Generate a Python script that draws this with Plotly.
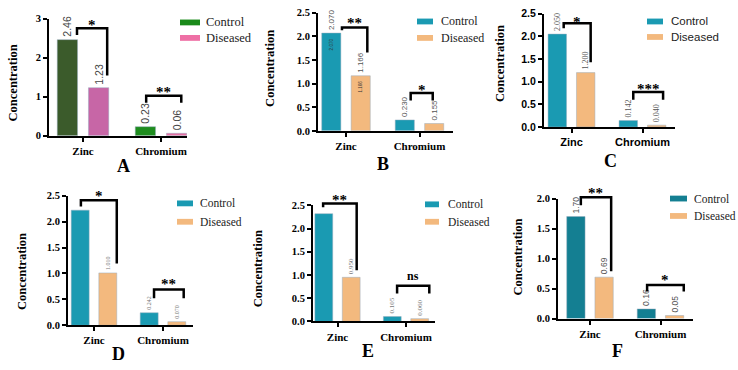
import plotly.graph_objects as go

W, H = 738, 370

categories = ["Zinc", "Chromium"]
cat_pos = [0, 1]
series_names = ["Control", "Diseased"]

a_control = [2.46, 0.23]
a_diseased = [1.23, 0.06]
a_control_text = ["2.46", "0.23"]
a_diseased_text = ["1.23", "0.06"]
a_sig = ["*", "**"]

b_control = [2.070, 0.230]
b_diseased = [1.166, 0.155]
b_control_text = ["2.070", "0.230"]
b_diseased_text = ["1.166", "0.155"]
b_sig = ["**", "*"]

c_control = [2.050, 0.142]
c_diseased = [1.200, 0.040]
c_control_text = ["2.050", "0.142"]
c_diseased_text = ["1.200", "0.040"]
c_sig = ["*", "***"]

d_control = [2.22, 0.242]
d_diseased = [1.010, 0.070]
d_control_text = ["", "0.242"]
d_diseased_text = ["1.010", "0.070"]
d_sig = ["*", "**"]

e_control = [2.32, 0.105]
e_diseased = [0.950, 0.060]
e_control_text = ["", "0.105"]
e_diseased_text = ["0.950", "0.060"]
e_sig = ["**", "ns"]

f_control = [1.70, 0.16]
f_diseased = [0.69, 0.05]
f_control_text = ["1.70", "0.16"]
f_diseased_text = ["0.69", "0.05"]
f_sig = ["**", "*"]

SERIF = "Liberation Serif, Times New Roman, serif"
SANS = "Liberation Sans, Arial, sans-serif"
TEAL = "#1a9ab2"
ORANGE = "#f3b97e"

panels = [
    dict(letter="A", ctrl=a_control, dis=a_diseased, ct=a_control_text, dt=a_diseased_text, sig=a_sig,
         ymax=3, dtick=1, fmt="d", px=dict(l=49, r=187, z=83, c=161, t=13, b=134),
         cc=["#3b5b2b", "#1e8c1e"], dc=["#c766a6", "#e46fa3"], lc=("#1a8a1a", "#ee70a5"),
         tf=SERIF, lf=SERIF, vf=SANS, vs=10.5, vcol="#444",
         zb=(-0.077, 0.31, 2.75, 2.58, 1.54), cb=(-0.19, 0.26, 1.02, 0.84, 0.84), sy=(2.95, 1.21),
         title=(13, 80), let=(123, 165), leg=dict(x=180, y1=17, y2=33, w=20, h=6, tx=204, size=12.5)),
    dict(letter="B", ctrl=b_control, dis=b_diseased, ct=b_control_text, dt=b_diseased_text, sig=b_sig,
         ymax=2.5, dtick=0.5, fmt=".1f", px=dict(l=318, r=453, z=346, c=419.5, t=7, b=129),
         cc=[TEAL, TEAL], dc=[ORANGE, ORANGE], lc=(TEAL, ORANGE),
         tf=SERIF, lf=SERIF, vf=SANS, vs=8, vcol="#555", inner=True,
         zb=(-0.055, 0.29, 2.19, 2.13, 1.66), cb=(-0.12, 0.18, 0.80, 0.64, 0.64), sy=(2.36, 0.94),
         title=(270, 65), let=(383, 163), leg=dict(x=417, y1=16, y2=33, w=16, h=6, tx=439, size=12)),
    dict(letter="C", ctrl=c_control, dis=c_diseased, ct=c_control_text, dt=c_diseased_text, sig=c_sig,
         ymax=2.5, dtick=0.5, fmt=".1f", px=dict(l=544, r=675, z=571.5, c=642.5, t=8, b=125),
         cc=[TEAL, TEAL], dc=[ORANGE, ORANGE], lc=(TEAL, ORANGE),
         tf=SANS, lf=SANS, vf=SERIF, vs=8, vcol="#555",
         zb=(-0.11, 0.27, 2.29, 2.18, 1.43), cb=(-0.13, 0.29, 0.77, 0.60, 0.60), sy=(2.41, 0.92),
         title=(500, 60), let=(610, 160), leg=dict(x=647, y1=16, y2=32, w=16, h=6, tx=669, size=11.5)),
    dict(letter="D", ctrl=d_control, dis=d_diseased, ct=d_control_text, dt=d_diseased_text, sig=d_sig,
         ymax=2.5, dtick=0.5, fmt=".1f", px=dict(l=68, r=193, z=94, c=163, t=196, b=330),
         cc=[TEAL, TEAL], dc=[ORANGE, ORANGE], lc=(TEAL, ORANGE),
         tf=SERIF, lf=SERIF, vf=SERIF, vs=6, vcol="#777",
         zb=(-0.19, 0.33, 2.41, 2.29, 1.19), cb=(-0.13, 0.30, 0.69, 0.52, 0.52), sy=(2.57, 0.88),
         title=(22, 275), let=(118, 360), leg=dict(x=177, y1=204, y2=223, w=16, h=6, tx=198, size=11.5)),
    dict(letter="E", ctrl=e_control, dis=e_diseased, ct=e_control_text, dt=e_diseased_text, sig=e_sig,
         ymax=2.5, dtick=0.5, fmt=".1f", px=dict(l=313, r=435, z=337.5, c=406, t=206, b=326),
         cc=[TEAL, TEAL], dc=[ORANGE, ORANGE], lc=(TEAL, ORANGE),
         tf=SERIF, lf=SERIF, vf=SERIF, vs=7, vcol="#777",
         zb=(-0.21, 0.28, 2.54, 2.46, 1.10), cb=(-0.13, 0.34, 0.77, 0.60, 0.60), sy=(2.69, 0.98),
         title=(258, 272), let=(368, 357), leg=dict(x=425, y1=205, y2=223, w=14, h=6, tx=446, size=11.5)),
    dict(letter="F", ctrl=f_control, dis=f_diseased, ct=f_control_text, dt=f_diseased_text, sig=f_sig,
         ymax=2.0, dtick=0.5, fmt=".1f", px=dict(l=558, r=693, z=590, c=660.5, t=199, b=323),
         cc=["#147f92", "#147f92"], dc=[ORANGE, ORANGE], lc=("#147f92", ORANGE),
         tf=SERIF, lf=SERIF, vf=SANS, vs=8.5, vcol="#555",
         zb=(-0.13, 0.30, 2.02, 1.89, 0.79), cb=(-0.19, 0.33, 0.56, 0.45, 0.45), sy=(2.16, 0.71),
         title=(518, 260), let=(617, 357), leg=dict(x=670, y1=199, y2=217, w=17, h=6, tx=692, size=11.5)),
]

BARGAP = 0.2
BARGROUPGAP = 0.35
BAR_OFFSET = (1 - BARGAP) / 4  # centre offset of each bar within its category

fig = go.Figure()
shapes = []
annotations = []
layout = {}


def px_x(v):
    return v / W


def px_y(v):
    return 1 - v / H


for i, p in enumerate(panels, start=1):
    xa = "x" if i == 1 else f"x{i}"
    ya = "y" if i == 1 else f"y{i}"
    g = p["px"]
    ppu = g["c"] - g["z"]
    xr = [(g["l"] - g["z"]) / ppu, (g["r"] - g["z"]) / ppu]
    ypu = (g["b"] - g["t"]) / p["ymax"]

    def dx(v, g=g, ppu=ppu):
        return (g["z"] + v * ppu) / W

    def dy(v, g=g, ypu=ypu):
        return 1 - (g["b"] - v * ypu) / H

    for vals, txt, cols, nm in ((p["ctrl"], p["ct"], p["cc"], series_names[0]),
                                 (p["dis"], p["dt"], p["dc"], series_names[1])):
        fig.add_trace(go.Bar(
            x=cat_pos, y=vals, name=nm, text=txt, textposition="outside", textangle=-90,
            textfont=dict(family=p["vf"], size=p["vs"], color=p["vcol"]),
            marker=dict(color=cols, line=dict(color="rgba(150,170,190,0.6)", width=0.8)),
            cliponaxis=False, constraintext="none", showlegend=False,
            xaxis=xa, yaxis=ya, hoverinfo="skip"))

    axfont = dict(family=p["tf"], size=11, color="black", weight="bold")
    layout["xaxis" if i == 1 else f"xaxis{i}"] = dict(
        domain=[px_x(g["l"]), px_x(g["r"])], anchor=ya, range=xr, fixedrange=True,
        tickvals=cat_pos, ticktext=categories, ticks="outside", ticklen=4, tickwidth=1.5,
        tickcolor="black", showline=True, linecolor="black", linewidth=2,
        showgrid=False, zeroline=False, tickfont=axfont)
    layout["yaxis" if i == 1 else f"yaxis{i}"] = dict(
        domain=[px_y(g["b"]), px_y(g["t"])], anchor=xa, range=[0, p["ymax"]], fixedrange=True,
        dtick=p["dtick"], tickformat=p["fmt"], ticks="outside", ticklen=4, tickwidth=1.5,
        tickcolor="black", showline=True, linecolor="black", linewidth=2,
        showgrid=False, zeroline=False,
        tickfont=dict(family=p["tf"], size=10.5, color="black", weight="bold"))

    # tiny duplicate value labels printed inside the zinc bars (panel B)
    if p.get("inner"):
        for off, vals, txt in ((-BAR_OFFSET, p["ctrl"], p["ct"]), (BAR_OFFSET, p["dis"], p["dt"])):
            annotations.append(dict(
                x=dx(cat_pos[0] + off), y=dy(vals[0]), xref="paper", yref="paper",
                text=txt[0], textangle=-90, showarrow=False, xanchor="center", yanchor="top",
                yshift=-3, font=dict(family=SANS, size=4.5, color="#333")))

    # significance brackets
    for k, br in enumerate((p["zb"], p["cb"])):
        x0 = dx(cat_pos[k] + br[0])
        x1 = dx(cat_pos[k] + br[1])
        shapes.append(dict(type="path", xref="paper", yref="paper",
                           path=f"M {x0},{dy(br[3])} L {x0},{dy(br[2])} L {x1},{dy(br[2])} L {x1},{dy(br[4])}",
                           line=dict(color="black", width=2.5)))
        sig = p["sig"][k]
        annotations.append(dict(
            x=(x0 + x1) / 2, y=dy(p["sy"][k]), xref="paper", yref="paper", text=sig, showarrow=False,
            xanchor="center", yanchor="middle", yshift=-4 if sig != "ns" else 0,
            font=dict(family=SERIF, size=15 if sig != "ns" else 12, color="black", weight="bold")))

    # y title
    annotations.append(dict(
        x=px_x(p["title"][0]), y=px_y(p["title"][1]), xref="paper", yref="paper",
        text="Concentration", textangle=-90, showarrow=False, xanchor="center", yanchor="middle",
        font=dict(family=SERIF, size=12.5, color="black", weight="bold")))
    # panel letter
    annotations.append(dict(
        x=px_x(p["let"][0]), y=px_y(p["let"][1]), xref="paper", yref="paper",
        text=p["letter"], showarrow=False, xanchor="center", yanchor="middle",
        font=dict(family=SERIF, size=18, color="black", weight="bold")))
    # legend
    lg = p["leg"]
    for nm, col, yy in ((series_names[0], p["lc"][0], lg["y1"]), (series_names[1], p["lc"][1], lg["y2"])):
        shapes.append(dict(type="rect", xref="paper", yref="paper",
                           x0=px_x(lg["x"]), x1=px_x(lg["x"] + lg["w"]),
                           y0=px_y(yy + lg["h"] / 2), y1=px_y(yy - lg["h"] / 2),
                           fillcolor=col, line=dict(width=0)))
        annotations.append(dict(
            x=px_x(lg["tx"]), y=px_y(yy), xref="paper", yref="paper", text=nm, showarrow=False,
            xanchor="left", yanchor="middle",
            font=dict(family=p["lf"], size=lg["size"], color="#222")))

fig.update_layout(
    width=W, height=H, margin=dict(l=0, r=0, t=0, b=0),
    paper_bgcolor="white", plot_bgcolor="white",
    barmode="group", bargap=BARGAP, bargroupgap=BARGROUPGAP,
    shapes=shapes, annotations=annotations, showlegend=False,
    **layout)

fig.write_html("out.html")
